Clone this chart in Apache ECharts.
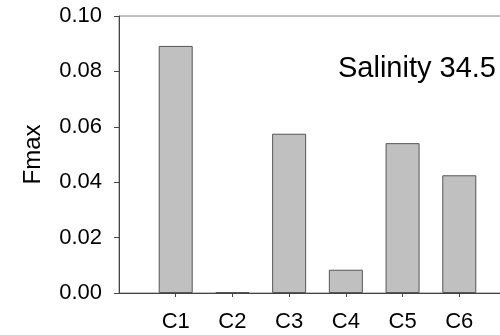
<!DOCTYPE html>
<html>
<head>
<meta charset="utf-8">
<script src="https://cdn.jsdelivr.net/npm/echarts@6/dist/echarts.min.js"></script>
<style>
  html, body { margin: 0; padding: 0; background: #fff; }
  #chart { width: 500px; height: 335px; }
</style>
</head>
<body>
<div id="chart"></div>
<script>
// Fmax of each PARAFAC component at salinity 34.5
const categories = ['C1', 'C2', 'C3', 'C4', 'C5', 'C6'];
const fmaxValues = [0.0892, 0.0003, 0.0575, 0.0084, 0.0541, 0.0425];
const yTicks = [0.00, 0.02, 0.04, 0.06, 0.08, 0.10];

// Empty slots on both ends give the half-band margins around the bars
const axisCategories = [''].concat(categories, ['']);
const barData = [null].concat(fmaxValues, [null]);

const FONT = 'Liberation Sans, Arial, sans-serif';

const chart = echarts.init(document.getElementById('chart'), null, { renderer: 'canvas' });
chart.setOption({
  animation: false,
  backgroundColor: '#ffffff',
  title: {
    text: 'Salinity 34.5',
    right: 4,
    top: 54,
    padding: 0,
    textStyle: { fontFamily: FONT, fontSize: 29, fontWeight: 'normal', color: '#000', lineHeight: 29 }
  },
  grid: {
    left: 119, width: 397, top: 16, bottom: 42,
    containLabel: false,
    outerBoundsMode: 'none',
    show: true, borderColor: '#808080', borderWidth: 1, backgroundColor: 'transparent'
  },
  xAxis: {
    type: 'category',
    data: axisCategories,
    boundaryGap: false,
    axisLine: { lineStyle: { color: '#444', width: 1 } },
    axisTick: {
      length: 4,
      interval: function (i) { return i > 0 && i < axisCategories.length - 1; },
      lineStyle: { color: '#444' }
    },
    axisLabel: { interval: 0, margin: 18, color: '#000', fontFamily: FONT, fontSize: 22 },
    splitLine: { show: false }
  },
  yAxis: {
    type: 'value',
    min: yTicks[0],
    max: yTicks[yTicks.length - 1],
    interval: yTicks[1] - yTicks[0],
    name: 'Fmax',
    nameLocation: 'middle',
    nameGap: 74,
    nameTextStyle: { fontFamily: FONT, fontSize: 24, color: '#000', lineHeight: 24 },
    axisLine: { show: true, lineStyle: { color: '#444', width: 1 } },
    axisTick: { show: true, length: 5, lineStyle: { color: '#444' } },
    axisLabel: {
      margin: 17, color: '#000', fontFamily: FONT, fontSize: 22,
      formatter: function (v) { return v.toFixed(2); }
    },
    splitLine: { show: false }
  },
  series: [{
    type: 'bar',
    data: barData,
    barWidth: 34,
    itemStyle: { color: '#c0c0c0', borderColor: '#555', borderWidth: 1 }
  }]
});
</script>
</body>
</html>
